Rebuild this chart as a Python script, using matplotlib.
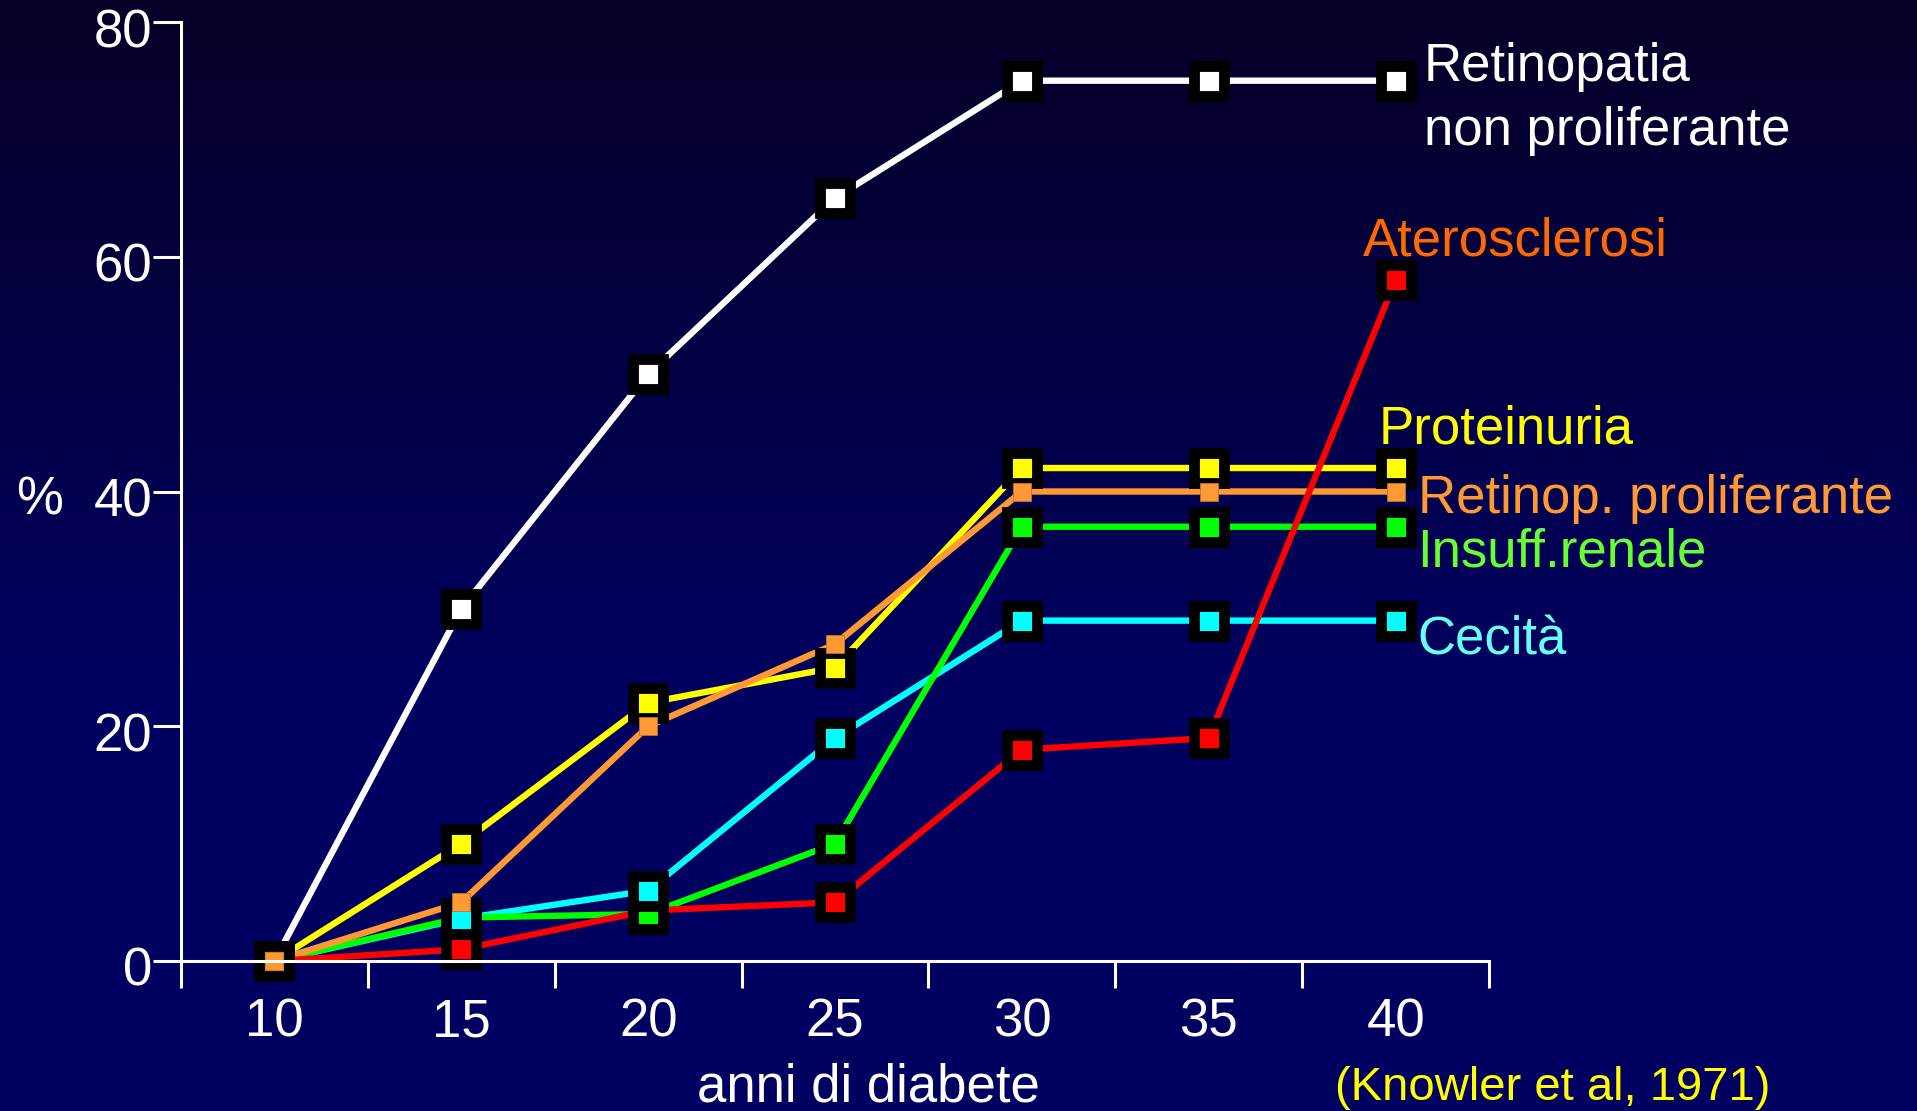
import numpy as np
import matplotlib.pyplot as plt

plt.rcParams['font.family'] = ['Liberation Sans', 'DejaVu Sans']

# anni di diabete
years = [10, 15, 20, 25, 30, 35, 40]

# prevalenza (%)
retinopatia_np = [0, 30, 50, 65, 75, 75, 75]
proteinuria = [0, 10, 22, 25, 42, 42, 42]
retinop_prolif = [0, 5, 20, 27, 40, 40, 40]
insuff_renale = [0, 3.7, 4, 10, 37, 37, 37]
cecita = [0, 3.6, 6, 19, 29, 29, 29]
aterosclerosi = [0, 1, 4.3, 5, 18, 19, 58]

yticks = [0, 20, 40, 60, 80]
xbounds = [7.5, 12.5, 17.5, 22.5, 27.5, 32.5, 37.5, 42.5]

# (values, line colour, label, label colour, label offset px, line z, marker z, boxed marker)
series = [
    (retinopatia_np, '#ffffff', 'Retinopatia\nnon proliferante', '#ffffff', (28, -64), 2.0, 3.0, True),
    (cecita, '#00ffff', 'Cecità', '#66ffff', (22, -34), 2.1, 3.3, True),
    (insuff_renale, '#00ff00', 'Insuff.renale', '#66ff33', (22, -40), 2.2, 3.2, True),
    (proteinuria, '#ffff00', 'Proteinuria', '#ffff00', (-17, 25), 2.3, 3.4, True),
    (retinop_prolif, '#ff9933', 'Retinop. proliferante', '#ff9933', (22, -21), 2.4, 3.5, False),
    (aterosclerosi, '#ff0000', 'Aterosclerosi', '#ff6a00', (-33, 25), 2.5, 3.1, True),
]

W, H = 1917, 1111
fig = plt.figure(figsize=(W / 100, H / 100), dpi=100)

# background: dark navy fading into blue
bg = fig.add_axes([0, 0, 1, 1], zorder=-10)
t = np.clip(np.linspace(0, 1, 400) / 0.62, 0, 1)
top = np.array([5, 0, 38]) / 255
bottom = np.array([0, 0, 96]) / 255
grad = top[None, :] * (1 - t[:, None]) + bottom[None, :] * t[:, None]
bg.imshow(grad[:, None, :], aspect='auto', extent=[0, 1, 0, 1])
bg.axis('off')

ax = fig.add_axes([181 / W, 1 - 961 / H, 1308 / W, 939 / H])
ax.set_facecolor('none')

for vals, col, label, tcol, off, lz, mz, boxed in series:
    ax.plot(years, vals, color=col, lw=4.6, zorder=lz, clip_on=False)
    if boxed:
        ax.plot(years, vals, ls='none', marker='s', ms=21.5, mfc=col,
                mec='black', mew=7.8, zorder=mz, clip_on=False)
    else:
        ax.plot(years, vals, ls='none', marker='s', ms=13.2, mfc=col,
                mec='#c07030', mew=0.6, zorder=mz, clip_on=False)
    ax.annotate(label, xy=(years[-1], vals[-1]), xytext=off,
                textcoords='offset pixels', ha='left', va='baseline',
                color=tcol, fontsize=38, linespacing=1.35,
                annotation_clip=False)

ax.set_xlim(7.5, 42.5)
ax.set_ylim(0, 80)
ax.set_yticks(yticks)
ax.set_yticklabels([])
ax.set_xticks(years)
ax.set_xticks(xbounds, minor=True)

for side in ['top', 'right']:
    ax.spines[side].set_visible(False)
for side in ['left', 'bottom']:
    ax.spines[side].set_color('white')
    ax.spines[side].set_linewidth(2.2)
    ax.spines[side].set_zorder(10)

ax.tick_params(axis='y', direction='out', length=20, width=2.2, color='white')
ax.tick_params(axis='x', which='major', length=0, pad=26,
               labelsize=38, labelcolor='white')
ax.tick_params(axis='x', which='minor', direction='out', length=19.5,
               width=2.2, color='white')

# y labels sit a little below their ticks
for v in yticks:
    ax.annotate(str(v), xy=(0, v), xycoords=('axes fraction', 'data'),
                xytext=(-29, -11), textcoords='offset pixels',
                ha='right', va='center', color='white', fontsize=38,
                annotation_clip=False)

ax.annotate('%', xy=(0, 40), xycoords=('axes fraction', 'data'),
            xytext=(-141, -9), textcoords='offset pixels',
            ha='center', va='center', color='white', fontsize=38)

fig.text(868 / W, 1 - 1101 / H, 'anni di diabete', ha='center', va='baseline',
         color='white', fontsize=38)
fig.text(1553 / W, 1 - 1100 / H, '(Knowler et al, 1971)', ha='center',
         va='baseline', color='#ffff00', fontsize=34)

fig.savefig('out.png', dpi=100)
